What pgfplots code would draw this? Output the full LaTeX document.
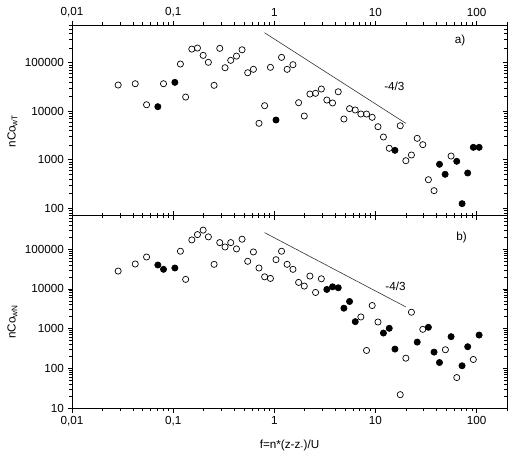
\documentclass[border=0pt]{standalone}
\usepackage{pgfplots}
\pgfplotsset{compat=1.18}
\usepackage{pgfplotstable}
\usepackage{fontspec}
\setmainfont{Liberation Sans}

% spectra, panel a) (T component)
\pgfplotstableread{
x y
0.0286 34700
0.0422 36900
0.0546 13600
0.0803 36900
0.118 94000
0.133 19600
0.153 191000
0.174 201000
0.198 142000
0.223 102000
0.254 34200
0.289 198000
0.326 78900
0.371 112000
0.423 137000
0.480 185000
0.546 62200
0.622 73100
0.706 5630
0.803 13000
0.916 80400
1.18 129000
1.34 73100
1.53 91000
1.74 15000
1.98 7960
2.25 22600
2.56 23400
2.92 28700
3.31 17000
3.77 14800
4.29 25200
4.88 6900
5.55 11300
6.32 10600
7.18 8750
8.17 8750
9.29 7490
10.6 4790
12.0 2940
13.7 1720
17.6 5020
20.0 953
22.7 1250
25.9 2760
29.4 2040
33.4 387
38.0 230
56.0 1190
}\topopen
\pgfplotstableread{
x y
0.0706 12400
0.104 39400
1.04 6590
15.6 1560
43.0 804
48.9 500
63.7 927
71.9 124
81.7 532
92.9 1800
106 1800
}\topfilled

% spectra, panel b) (N component)
\pgfplotstableread{
x y
0.0286 28200
0.0422 42500
0.0546 63800
0.118 89000
0.133 17400
0.153 172000
0.174 234000
0.198 303000
0.223 205000
0.254 41700
0.289 147000
0.326 114000
0.371 147000
0.423 102000
0.480 179000
0.546 49700
0.622 85500
0.706 33700
0.803 20200
0.916 18400
1.04 54600
1.18 89000
1.34 41700
1.53 31200
1.74 14600
1.98 11800
2.25 21100
2.56 8150
2.92 18000
7.18 1970
8.17 282
9.29 3820
10.6 1470
17.6 21.7
20.0 180
22.7 2590
29.4 960
49.2 294
63.7 58.5
92.9 167
}\botopen
\pgfplotstableread{
x y
0.0706 40100
0.0803 31200
0.104 33700
3.31 9710
3.77 11300
4.29 10700
4.88 3270
5.55 4830
6.32 1500
12.0 774
13.7 1020
15.6 305
25.9 458
33.4 1080
38.0 256
43.0 140
56.0 627
71.9 116
81.7 350
106 689
}\botfilled

\newcommand{\lblfont}{\fontsize{11.7}{14}\selectfont}

% common look of every axis
\pgfplotsset{
  every axis/.append style={
    width=435pt, scale only axis,
    xmin=0.01, xmax=200,
    axis line style={line width=0.8pt, black},
    major tick style={line width=0.7pt, black},
    minor tick style={line width=0.6pt, black},
    major tick length=4.5pt, minor tick length=2.6pt,
    tick label style={font=\lblfont},
    label style={font=\lblfont},
  },
}

\begin{document}
\begin{tikzpicture}
\useasboundingbox (-72pt,-426pt) rectangle (444pt,25pt);

% ---- panel a): data, inward ticks on the right and on the shared border
\begin{axis}[xmode=log, ymode=log, name=top, at={(0,0)}, anchor=north west,
    height=190.7pt, ymin=70, ymax=6e5,
    xtick={0.01,0.1,1,10,100},
    minor xtick={0.02,0.03,0.04,0.05,0.06,0.07,0.08,0.09,0.2,0.3,0.4,0.5,0.6,0.7,0.8,0.9,2,3,4,5,6,7,8,9,20,30,40,50,60,70,80,90,200},
    ytick={100,1000,10000,100000},
    minor ytick={70,80,90,200,300,400,500,600,700,800,900,2000,3000,4000,5000,6000,7000,8000,9000,20000,30000,40000,50000,60000,70000,80000,90000,200000,300000,400000,500000,600000},
    tick align=inside, xtick pos=left, ytick pos=right,
    xticklabels={}, yticklabels={}]
  \addplot[only marks, mark=o, mark size=3.1pt, mark options={line width=0.7pt, draw=black}]
    table[x=x,y=y] {\topopen};
  \addplot[only marks, mark=*, mark size=3.1pt, mark options={line width=0.7pt, draw=black, fill=black}]
    table[x=x,y=y] {\topfilled};
  \addplot[no marks, line width=0.6pt, black!80] coordinates {(0.8,4.16e5) (20,5620)};
  \node[font=\lblfont] at (axis cs:15.4,32000) {-4/3};
  \node[font=\lblfont] at (axis cs:68.7,2.94e5) {a)};
\end{axis}
% ---- panel a): outward ticks and labels
\begin{axis}[xmode=log, ymode=log, at={(0,0)}, anchor=north west,
    height=190.7pt, ymin=70, ymax=6e5,
    xtick={0.01,0.1,1,10,100},
    minor xtick={0.02,0.03,0.04,0.05,0.06,0.07,0.08,0.09,0.2,0.3,0.4,0.5,0.6,0.7,0.8,0.9,2,3,4,5,6,7,8,9,20,30,40,50,60,70,80,90,200},
    ytick={100,1000,10000,100000},
    minor ytick={70,80,90,200,300,400,500,600,700,800,900,2000,3000,4000,5000,6000,7000,8000,9000,20000,30000,40000,50000,60000,70000,80000,90000,200000,300000,400000,500000,600000},
    tick align=outside, xtick pos=right, ytick pos=left,
    xticklabel pos=right,
    xticklabels={{0,01},{0,1},1,10,100},
    yticklabels={100,1000,10000,100000},
    ylabel={nCo\textsubscript{wT}},
    ylabel style={at={(axis description cs:-0.137,0.444)}, anchor=center}]
\end{axis}

% ---- panel b): data
\begin{axis}[xmode=log, ymode=log, name=bot, at={(top.south west)}, anchor=north west,
    height=192.3pt, ymin=10, ymax=7e5,
    xtick={0.01,0.1,1,10,100},
    minor xtick={0.02,0.03,0.04,0.05,0.06,0.07,0.08,0.09,0.2,0.3,0.4,0.5,0.6,0.7,0.8,0.9,2,3,4,5,6,7,8,9,20,30,40,50,60,70,80,90,200},
    ytick={10,100,1000,10000,100000},
    minor ytick={20,30,40,50,60,70,80,90,200,300,400,500,600,700,800,900,2000,3000,4000,5000,6000,7000,8000,9000,20000,30000,40000,50000,60000,70000,80000,90000,200000,300000,400000,500000,600000,700000},
    tick align=inside, xtick pos=right, ytick pos=right,
    xticklabels={}, yticklabels={}]
  \addplot[only marks, mark=o, mark size=3.1pt, mark options={line width=0.7pt, draw=black}]
    table[x=x,y=y] {\botopen};
  \addplot[only marks, mark=*, mark size=3.1pt, mark options={line width=0.7pt, draw=black, fill=black}]
    table[x=x,y=y] {\botfilled};
  \addplot[no marks, line width=0.6pt, black!80] coordinates {(0.8,2.63e5) (20,3520)};
  \node[font=\lblfont] at (axis cs:15.8,11800) {-4/3};
  \node[font=\lblfont] at (axis cs:71,2.0e5) {b)};
\end{axis}
% ---- panel b): outward ticks and labels
\begin{axis}[xmode=log, ymode=log, at={(top.south west)}, anchor=north west,
    height=192.3pt, ymin=10, ymax=7e5,
    xtick={0.01,0.1,1,10,100},
    minor xtick={0.02,0.03,0.04,0.05,0.06,0.07,0.08,0.09,0.2,0.3,0.4,0.5,0.6,0.7,0.8,0.9,2,3,4,5,6,7,8,9,20,30,40,50,60,70,80,90,200},
    ytick={10,100,1000,10000,100000},
    minor ytick={20,30,40,50,60,70,80,90,200,300,400,500,600,700,800,900,2000,3000,4000,5000,6000,7000,8000,9000,20000,30000,40000,50000,60000,70000,80000,90000,200000,300000,400000,500000,600000,700000},
    tick align=outside, xtick pos=left, ytick pos=left,
    xticklabels={{0,01},{0,1},1,10,100},
    yticklabels={10,100,1000,10000,100000},
    xlabel={f=n*(z-z\textsubscript{-})/U},
    xlabel style={at={(axis description cs:0.5,0)}, yshift=-37pt, anchor=center},
    ylabel={nCo\textsubscript{wN}},
    ylabel style={at={(axis description cs:-0.137,0.447)}, anchor=center}]
\end{axis}
\end{tikzpicture}
\end{document}
